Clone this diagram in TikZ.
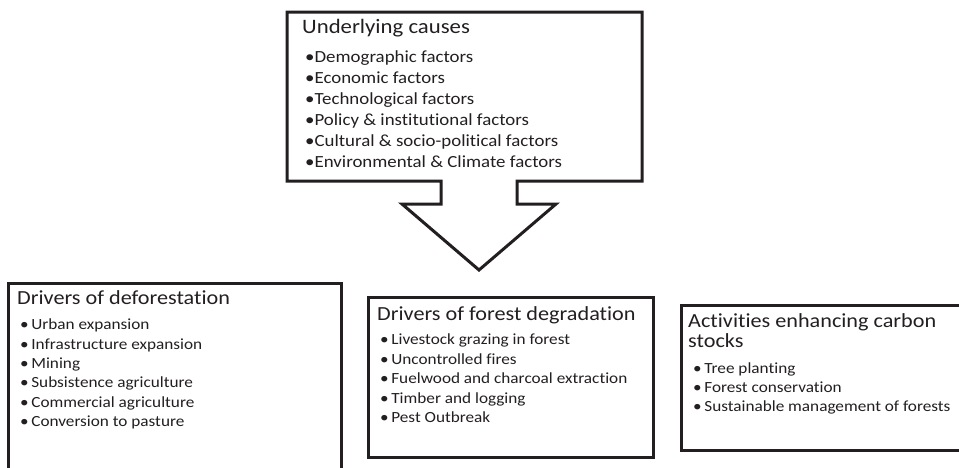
\documentclass[tikz,border=0pt]{standalone}
\usepackage{fontspec}
\setmainfont{Carlito}[FakeStretch=1.11, Ligatures=NoCommon]
\definecolor{ink}{HTML}{231F20}
\tikzset{
  outline/.style={draw=ink, line width=3pt, line join=miter},
  txt/.style={inner sep=0pt, anchor=base west, text=ink},
  bigtitle/.style={txt, font=\fontsize{20.5}{25}\selectfont},
  toptext/.style={txt, font=\fontsize{17}{20}\selectfont},
  boxtitle/.style={txt, font=\fontsize{20}{23}\selectfont},
  boxtext/.style={txt, font=\fontsize{15.5}{19}\selectfont}
}
\begin{document}
\begin{tikzpicture}[x=1pt,y=-1pt]
\useasboundingbox (0,0) rectangle (959,467);
\begin{scope}
\clip (0,0) rectangle (959,467);
% top box with arrow
\draw[outline] (287,12) -- (642,12) -- (642,181) -- (517,181) -- (517,204) -- (556,204)
  -- (479,270) -- (402,204) -- (441,204) -- (441,181) -- (287,181) -- cycle;
% left box (bottom cut)
\draw[outline] (8,490) -- (8,283) -- (341,283) -- (341,490);
% middle box
\draw[outline] (368,297) rectangle (653,457);
% right box (right cut)
\draw[outline] (975,305) -- (681,305) -- (681,450) -- (975,450);
\end{scope}

% top text
\node[bigtitle] (uc) at (302,33) {Underlying causes};
\node[toptext] (u1) at (305,62) {•Demographic factors};
\node[toptext] (u2) at (305,83) {•Economic factors};
\node[toptext] (u3) at (305,104) {•Technological factors};
\node[toptext] (u4) at (305,125) {•Policy \& institutional factors};
\node[toptext] (u5) at (305,146) {•Cultural \& socio-political factors};
\node[toptext] (u6) at (305,167) {•Environmental \& Climate factors};

% left box text
\node[boxtitle] (dd) at (17,304) {Drivers of deforestation};
\node[boxtext] (d1) at (20,329) {•\,Urban expansion};
\node[boxtext] (d2) at (20,349) {•\,Infrastructure expansion};
\node[boxtext] (d3) at (20,368) {•\,Mining};
\node[boxtext] (d4) at (20,387) {•\,Subsistence agriculture};
\node[boxtext] (d5) at (20,407) {•\,Commercial agriculture};
\node[boxtext] (d6) at (20,426) {•\,Conversion to pasture};

% middle box text
\node[boxtitle] (fd) at (377,320) {Drivers of forest degradation};
\node[boxtext] (f1) at (380,344) {•\,Livestock grazing in forest};
\node[boxtext] (f2) at (380,364) {•\,Uncontrolled fires};
\node[boxtext] (f3) at (380,383) {•\,Fuelwood and charcoal extraction};
\node[boxtext] (f4) at (380,403) {•\,Timber and logging};
\node[boxtext] (f5) at (380,422) {•\,Pest Outbreak};

% right box text
\node[boxtitle] (ac1) at (688,327) {Activities enhancing carbon};
\node[boxtitle] (ac2) at (688,347) {stocks};
\node[boxtext] (a1) at (693,373) {•\,Tree planting};
\node[boxtext] (a2) at (693,392) {•\,Forest conservation};
\node[boxtext] (a3) at (693,411) {•\,Sustainable management of forests};
\end{tikzpicture}
\end{document}
